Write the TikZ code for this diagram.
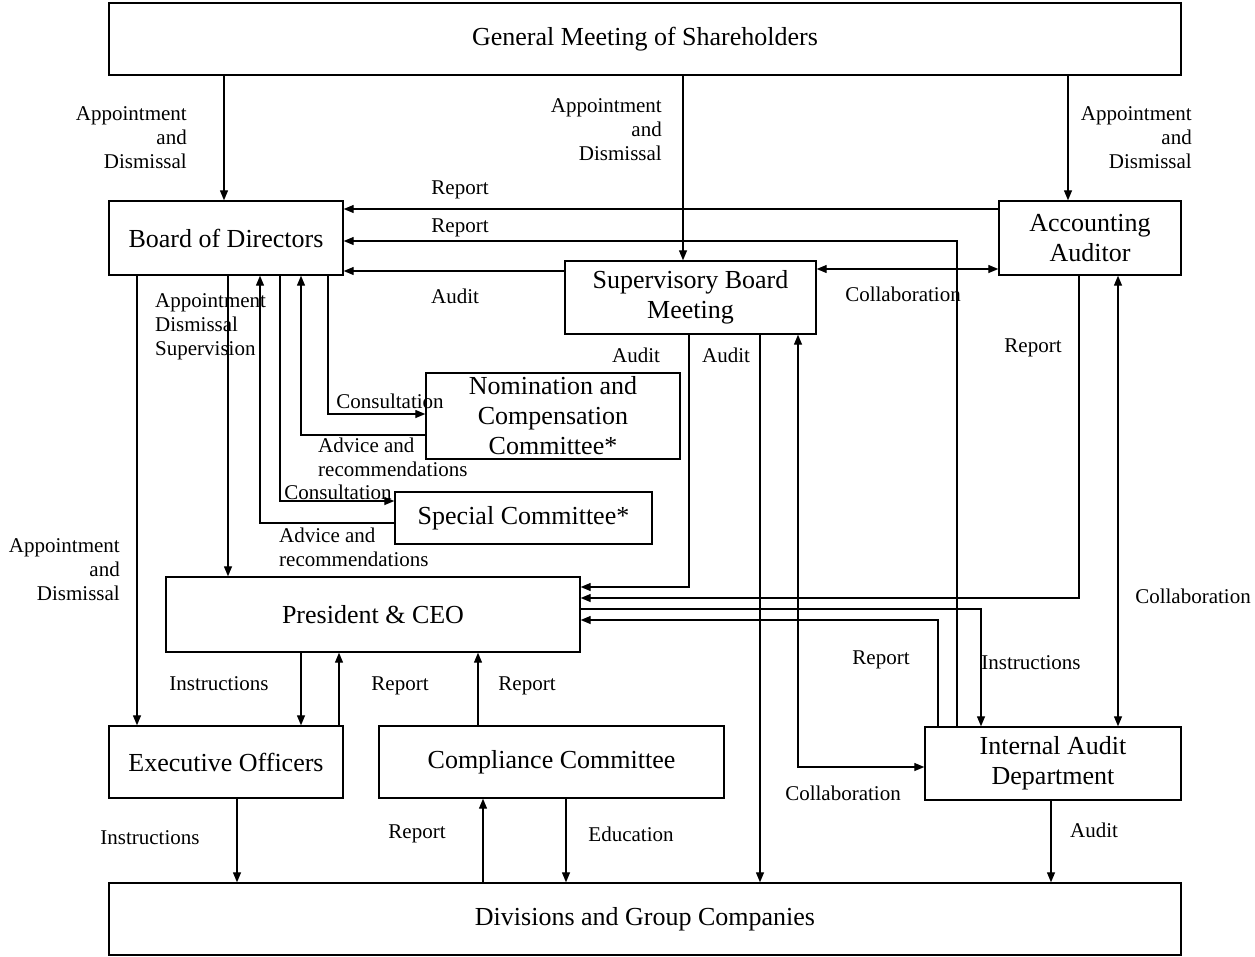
\documentclass[tikz,border=0pt]{standalone}
\usepackage{fontspec}
\setmainfont{Liberation Serif}
\usetikzlibrary{arrows.meta}
\begin{document}
\begin{tikzpicture}[x=1pt,y=-1pt,
  box/.style={draw, line width=1.4pt, inner sep=0pt, align=center, fill=white, font=\fontsize{26}{30}\selectfont},
  lbl/.style={inner sep=0pt, font=\fontsize{21}{24}\selectfont},
  arr/.style={line width=1.3pt, -{Triangle[length=10pt,width=8pt]}},
  darr/.style={line width=1.3pt, {Triangle[length=10pt,width=8pt]}-{Triangle[length=10pt,width=8pt]}}]
\useasboundingbox (0,0) rectangle (1255,956);
\fill[white] (0,0) rectangle (1255,956);
% boxes
\node[box, minimum width=1072pt, minimum height=72pt] (gms) at (645,39) {General Meeting of Shareholders};
\node[box, minimum width=234pt, minimum height=74pt] (bod) at (226,238) {Board of Directors};
\node[box, minimum width=182pt, minimum height=74pt] (aa) at (1090,238) {Accounting\\Auditor};
\node[box, minimum width=251pt, minimum height=73pt] (sbm) at (690.5,297.5) {Supervisory Board\\Meeting};
\node[box, minimum width=254pt, minimum height=86pt] (ncc) at (553,416) {Nomination and\\Compensation\\Committee*};
\node[box, minimum width=257pt, minimum height=52pt] (spc) at (523.5,518) {Special Committee*};
\node[box, minimum width=414pt, minimum height=75pt] (pres) at (373,614.5) {President \& CEO};
\node[box, minimum width=234pt, minimum height=72pt] (exo) at (226,762) {Executive Officers};
\node[box, minimum width=345pt, minimum height=72pt] (cc) at (551.5,762) {Compliance Committee};
\node[box, minimum width=256pt, minimum height=73pt] (iad) at (1053,763.5) {Internal Audit\\Department};
\node[box, minimum width=1072pt, minimum height=72pt] (div) at (645,919) {Divisions and Group Companies};
% helper coordinates
\foreach \v in {137,224,228,237,260,280,301,328,339,478,483,566,683,689,760,798,938,957,981,1051,1068,1079,1118}
  \coordinate (x\v) at (\v,0);
\foreach \v in {209,241,269,271,414,435,501,523,587,598,609,620,767}
  \coordinate (y\v) at (0,\v);
% connectors
\draw[arr] (gms.south -| x224) -- (bod.north -| x224);
\draw[arr] (gms.south -| x683) -- (sbm.north -| x683);
\draw[arr] (gms.south -| x1068) -- (aa.north -| x1068);
\draw[arr] (aa.west |- y209) -- (bod.east |- y209);
\draw[arr] (iad.north -| x957) |- (bod.east |- y241);
\draw[arr] (sbm.west |- y271) -- (bod.east |- y271);
\draw[darr] (sbm.east |- y269) -- (aa.west |- y269);
\draw[arr] (bod.south -| x137) -- (exo.north -| x137);
\draw[arr] (bod.south -| x228) -- (pres.north -| x228);
\draw[arr] (spc.west |- y523) -| (bod.south -| x260);
\draw[arr] (bod.south -| x280) |- (spc.west |- y501);
\draw[arr] (ncc.west |- y435) -| (bod.south -| x301);
\draw[arr] (bod.south -| x328) |- (ncc.west |- y414);
\draw[arr] (sbm.south -| x689) |- (pres.east |- y587);
\draw[arr] (sbm.south -| x760) -- (div.north -| x760);
\draw[darr] (iad.west |- y767) -| (sbm.south -| x798);
\draw[arr] (aa.south -| x1079) |- (pres.east |- y598);
\draw[darr] (aa.south -| x1118) -- (iad.north -| x1118);
\draw[arr] (pres.east |- y609) -| (iad.north -| x981);
\draw[arr] (iad.north -| x938) |- (pres.east |- y620);
\draw[arr] (pres.south -| x301) -- (exo.north -| x301);
\draw[arr] (exo.north -| x339) -- (pres.south -| x339);
\draw[arr] (cc.north -| x478) -- (pres.south -| x478);
\draw[arr] (exo.south -| x237) -- (div.north -| x237);
\draw[arr] (div.north -| x483) -- (cc.south -| x483);
\draw[arr] (cc.south -| x566) -- (div.north -| x566);
\draw[arr] (iad.south -| x1051) -- (div.north -| x1051);
% labels
\node[lbl, align=right, anchor=east] (l1) at (187,138) {Appointment\\and\\Dismissal};
\node[lbl, align=right, anchor=east] (l2) at (662,130) {Appointment\\and\\Dismissal};
\node[lbl, align=right, anchor=east] (l3) at (1192,138) {Appointment\\and\\Dismissal};
\node[lbl] (l4) at (460,190) {Report};
\node[lbl] (l5) at (460,228) {Report};
\node[lbl] (l6) at (455,296) {Audit};
\node[lbl] (l7) at (903,294) {Collaboration};
\node[lbl, align=left, anchor=west] (l8) at (155,327) {Appointment\\Dismissal\\Supervision};
\node[lbl] (l9) at (390,401) {Consultation};
\node[lbl, align=left, anchor=west] (l10) at (318,457) {Advice and\\recommendations};
\node[lbl] (l11) at (338,492) {Consultation};
\node[lbl, align=left, anchor=west] (l12) at (279,547) {Advice and\\recommendations};
\node[lbl] (l13) at (636,355) {Audit};
\node[lbl] (l14) at (726,355) {Audit};
\node[lbl] (l15) at (1033,348) {Report};
\node[lbl, align=right, anchor=east] (l16) at (120,570) {Appointment\\and\\Dismissal};
\node[lbl] (l17) at (1193,596) {Collaboration};
\node[lbl] (l18) at (881,660) {Report};
\node[lbl] (l19) at (1031,663) {Instructions};
\node[lbl] (l20) at (219,684) {Instructions};
\node[lbl] (l21) at (400,686) {Report};
\node[lbl] (l22) at (527,686) {Report};
\node[lbl] (l23) at (843,793) {Collaboration};
\node[lbl] (l24) at (150,838) {Instructions};
\node[lbl] (l25) at (417,834) {Report};
\node[lbl] (l26) at (631,834) {Education};
\node[lbl] (l27) at (1094,830) {Audit};
\end{tikzpicture}
\end{document}
